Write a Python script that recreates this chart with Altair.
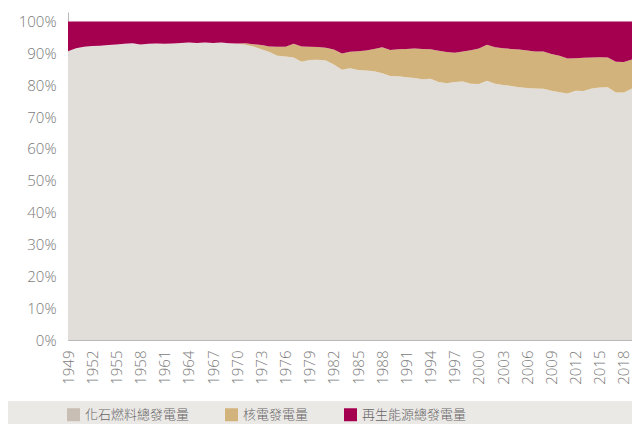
import altair as alt
import pandas as pd

years = list(range(1949, 2020))
categories = ["化石燃料總發電量", "核電發電量", "再生能源總發電量"]
area_colors = ["#e1ddd8", "#d3b37c", "#a50050"]
legend_colors = ["#c9beb3", "#d3b37c", "#a50050"]

fossil = [90.7, 91.6, 92.1, 92.3, 92.4, 92.6, 92.8, 93.0, 93.2, 92.8,
          93.0, 93.1, 93.0, 93.1, 93.3, 93.4, 93.3, 93.4, 93.3, 93.4,
          93.2, 93.0, 92.7, 92.2, 91.3, 90.4, 89.3, 89.0, 88.7, 87.4,
          87.9, 88.0, 87.8, 86.5, 84.9, 85.3, 84.8, 84.6, 84.4, 83.8,
          82.9, 82.8, 82.5, 82.3, 81.9, 82.0, 81.0, 80.6, 81.0, 81.2,
          80.5, 80.4, 81.4, 80.5, 80.1, 79.8, 79.4, 79.1, 79.0, 78.9,
          78.3, 77.8, 77.4, 78.3, 78.2, 79.0, 79.3, 79.4, 77.7, 77.7,
          79.0]
nuclear = [0, 0, 0, 0, 0, 0, 0, 0, 0, 0,
           0, 0, 0, 0, 0, 0, 0, 0, 0, 0,
           0, 0.1, 0.5, 0.7, 1.3, 1.8, 2.8, 3.1, 4.3, 4.8,
           4.2, 4.0, 4.0, 4.7, 5.1, 5.2, 5.9, 6.3, 7.0, 8.1,
           8.2, 8.5, 8.9, 9.2, 9.5, 9.3, 9.8, 9.8, 9.2, 9.4,
           10.5, 11.1, 11.3, 11.4, 11.5, 11.6, 11.8, 11.8, 11.6, 11.7,
           11.5, 11.5, 11.0, 10.2, 10.4, 9.7, 9.5, 9.3, 9.7, 9.6,
           9.1]
renewable = [9.3, 8.4, 7.9, 7.7, 7.6, 7.4, 7.2, 7.0, 6.8, 7.2,
             7.0, 6.9, 7.0, 6.9, 6.7, 6.6, 6.7, 6.6, 6.7, 6.6,
             6.8, 6.9, 6.8, 7.1, 7.4, 7.8, 7.9, 7.9, 7.0, 7.8,
             7.9, 8.0, 8.2, 8.8, 10.0, 9.5, 9.3, 9.1, 8.6, 8.1,
             8.9, 8.7, 8.6, 8.5, 8.6, 8.7, 9.2, 9.6, 9.8, 9.4,
             9.0, 8.5, 7.3, 8.1, 8.4, 8.6, 8.8, 9.1, 9.4, 9.4,
             10.2, 10.7, 11.6, 11.5, 11.4, 11.3, 11.2, 11.3, 12.6, 12.7,
             11.9]
x_ticks = list(range(1949, 2019, 3))
y_ticks = [i / 10 for i in range(11)]

rows = []
for k, (cat, series) in enumerate(zip(categories, [fossil, nuclear, renewable])):
    for yr, v in zip(years, series):
        rows.append({"year": yr, "cat": cat, "legend_cat": cat, "share": v / 100.0, "k": k})
df = pd.DataFrame(rows)

label_font = "Open Sans"
cjk_font = "Noto Sans CJK TC"

x_enc = alt.X("year:Q",
              scale=alt.Scale(domain=[1949, 2019], nice=False, zero=False),
              axis=alt.Axis(values=x_ticks, format="d", labelAngle=270, title=None,
                            ticks=False, grid=False, domainColor="#b8b8b8",
                            labelColor="#7a7a7a", labelFont=label_font,
                            labelFontSize=15, labelFontWeight=300, labelPadding=10,
                            labelOverlap=False, labelFlush=False, labelBound=False))
y_enc = alt.Y("share:Q", stack="zero",
              scale=alt.Scale(domain=[0, 1.03], nice=False),
              axis=alt.Axis(values=y_ticks, format=".0%", title=None, ticks=False,
                            grid=False, domainColor="#b8b8b8", labelColor="#7a7a7a",
                            labelFont=label_font, labelFontSize=15, labelFontWeight=300,
                            labelPadding=12, labelOverlap=False, labelFlush=False,
                            labelBound=False))

legend_bg = alt.Chart(alt.Data(values=[{"a": 1}])).mark_rect(
    color="#ebe9e6"
).encode(
    x=alt.value(-68), x2=alt.value(600),
    y=alt.value(389), y2=alt.value(430)
)

areas = alt.Chart(df).mark_area(interpolate="linear").encode(
    x=x_enc,
    y=y_enc,
    fill=alt.Fill("cat:N", scale=alt.Scale(domain=categories, range=area_colors),
                  legend=None),
    order=alt.Order("k:Q", sort="ascending"),
)

legend_src = alt.Chart(df).mark_square(opacity=0, size=1).encode(
    color=alt.Color("legend_cat:N",
                    scale=alt.Scale(domain=categories, range=legend_colors),
                    legend=alt.Legend(title=None, orient="none", legendX=-1, legendY=396,
                                      direction="horizontal", symbolType="square",
                                      symbolSize=169, symbolStrokeWidth=0,
                                      symbolOpacity=1,
                                      labelFont=cjk_font, labelFontSize=13,
                                      labelFontWeight=300, labelColor="#666666",
                                      labelOffset=5, columnPadding=35, padding=0,
                                      labelLimit=300)),
).transform_filter(alt.datum.year == 1949)

chart = alt.layer(legend_bg, areas, legend_src).resolve_scale(
    fill="independent", color="independent"
).properties(
    width=564, height=328,
    autosize=alt.AutoSizeParams(type="none"),
    padding={"left": 60, "top": 4, "right": 0, "bottom": 84},
).configure_view(stroke=None).configure_axis(labelOverlap=False)

chart.save("out.html", embed_options={"renderer": "svg", "actions": False})
